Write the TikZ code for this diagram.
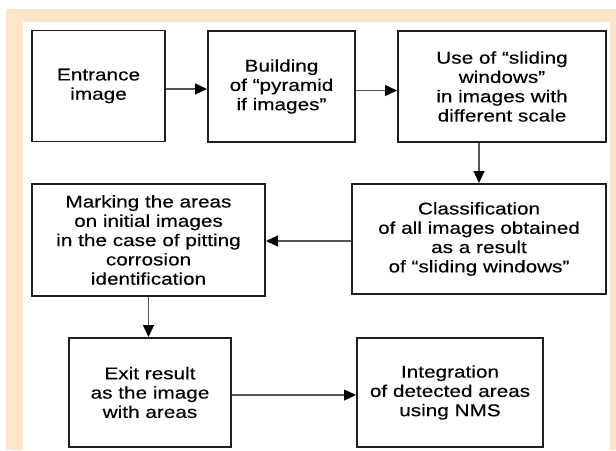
\documentclass[tikz,border=0pt]{standalone}
\usepackage{fontspec}
\setmainfont{Liberation Sans}[FakeStretch=1.22,FakeBold=0.3]
\usetikzlibrary{arrows.meta}
\definecolor{peach}{RGB}{253,229,204}
\definecolor{boxline}{RGB}{30,30,30}
\definecolor{arrowline}{RGB}{85,85,85}
\begin{document}
\begin{tikzpicture}[x=1pt,y=-1pt,>={Triangle[length=12pt,width=11pt,color=black]},
  every node/.style={font=\fontsize{17}{19.3}\selectfont,align=center,inner sep=0pt,outer sep=1pt},
  box/.style={draw=boxline,line width=1.8pt,fill=white},
  flow/.style={->,draw=arrowline,line width=1.3pt}]
  \useasboundingbox (0,0) rectangle (616,450);
  \fill[white] (0,0) rectangle (616,450);
  \fill[peach] (6,9) rectangle (616,450);
  \fill[white] (23,22) rectangle (610,450);
  \node[box,minimum width=133pt,minimum height=111pt] (entr) at (98.5,86) {Entrance\\image};
  \node[box,minimum width=147pt,minimum height=111pt] (pyr) at (281.5,86.5) {Building\\of “pyramid\\if images”};
  \node[box,minimum width=208pt,minimum height=111pt] (slide) at (502,86.5) {Use of “sliding\\windows”\\in images with\\different scale};
  \node[box,minimum width=233pt,minimum height=112pt] (mark) at (148.5,240) {Marking the areas\\on initial images\\in the case of pitting\\corrosion\\identification};
  \node[box,minimum width=254pt,minimum height=110pt] (class) at (479,239) {Classification\\of all images obtained\\as a result\\of “sliding windows”};
  \node[box,minimum width=162pt,minimum height=109pt] (exit) at (150,392.5) {Exit result\\as the image\\with areas};
  \node[box,minimum width=186pt,minimum height=109pt] (integ) at (450,392.5) {Integration\\of detected areas\\using NMS};
  \draw[flow] ([yshift=-3pt]entr.east) -- ([yshift=-3pt]entr.east -| pyr.west);
  \draw[flow] ([yshift=-4pt]pyr.east) -- ([yshift=-4pt]pyr.east -| slide.west);
  \draw[flow] (slide.south -| class) -- (class);
  \draw[flow] ([yshift=-2pt]class.west) -- ([yshift=-2pt]class.west -| mark.east);
  \draw[flow] (mark.south) -- (mark.south |- exit.north);
  \draw[flow] ([yshift=-2.5pt]exit.east) -- ([yshift=-2.5pt]exit.east -| integ.west);
\end{tikzpicture}
\end{document}
